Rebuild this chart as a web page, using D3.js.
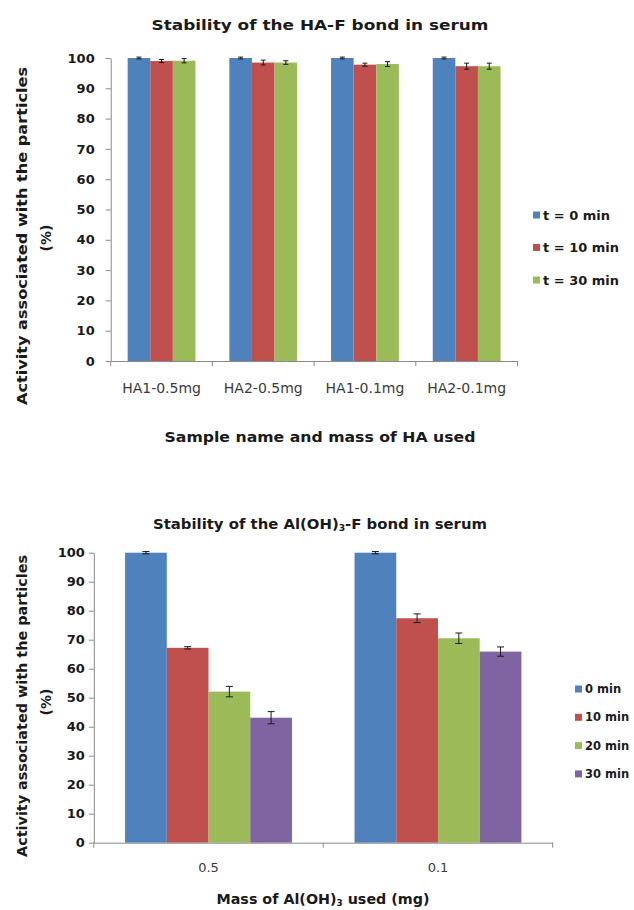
<!DOCTYPE html>
<html>
<head>
<meta charset="utf-8">
<script src="https://cdn.jsdelivr.net/npm/d3@7"></script>
<style>
  body { margin: 0; background: #fff; }
  svg text { font-family: "DejaVu Sans", sans-serif; }
</style>
</head>
<body>
<svg id="chart" width="634" height="910"></svg>
<script>
// top panel: HA-F bond
var haCategories = ['HA1-0.5mg', 'HA2-0.5mg', 'HA1-0.1mg', 'HA2-0.1mg'];
var haSeries = ['t = 0 min', 't = 10 min', 't = 30 min'];
var haT0 = [100, 100, 100, 100];
var haT0Err = [0.3, 0.3, 0.3, 0.3];
var haT10 = [99.0, 98.5, 97.8, 97.3];
var haT10Err = [0.5, 0.8, 0.5, 1.0];
var haT30 = [99.1, 98.5, 98.0, 97.3];
var haT30Err = [0.7, 0.6, 0.8, 1.0];

// bottom panel: Al(OH)3-F bond
var alCategories = ['0.5', '0.1'];
var alSeries = ['0 min', '10 min', '20 min', '30 min'];
var al0 = [100, 100];
var al0Err = [0.4, 0.4];
var al10 = [67.2, 77.4];
var al10Err = [0.4, 1.5];
var al20 = [52.1, 70.5];
var al20Err = [1.8, 1.8];
var al30 = [43.1, 65.9];
var al30Err = [2.1, 1.6];

var yTicks = [0, 10, 20, 30, 40, 50, 60, 70, 80, 90, 100];
var colors = ['#4F81BD', '#C0504D', '#9BBB59', '#8064A2'];

var svg = d3.select('#chart');

function drawPanel(opt) {
	var g = svg.append('g');

	var y = d3.scaleLinear().domain([0, 100]).range([opt.y0, opt.y100]);
	var x0 = d3.scaleBand().domain(opt.categories).range([opt.xLeft, opt.xRight]);
	// Excel style gap width 150%
	var x1 = d3.scaleBand().domain(opt.series).range([0, x0.bandwidth()])
		.paddingInner(0).paddingOuter(0.75);

	var rows = [];
	opt.categories.forEach(function(c, i) {
		opt.series.forEach(function(s, j) {
			rows.push({cat: c, ser: s, j: j, v: opt.values[j][i], e: opt.errors[j][i]});
		});
	});

	g.selectAll('.bar')
		.data(rows)
		.join('rect')
			.attr('class', 'bar')
			.attr('x', function(d) { return x0(d.cat) + x1(d.ser); })
			.attr('width', x1.bandwidth())
			.attr('y', function(d) { return y(d.v); })
			.attr('height', function(d) { return y(0) - y(d.v); })
			.attr('fill', function(d) { return colors[d.j]; });

	// error bars
	var eb = g.selectAll('.err')
		.data(rows)
		.join('g')
			.attr('class', 'err')
			.attr('stroke', '#1a1a1a')
			.attr('stroke-width', 1);
	function cx(d) { return x0(d.cat) + x1(d.ser) + x1.bandwidth() / 2; }
	eb.append('line')
		.attr('x1', cx).attr('x2', cx)
		.attr('y1', function(d) { return y(d.v + d.e); })
		.attr('y2', function(d) { return y(d.v - d.e); });
	eb.append('line')
		.attr('x1', function(d) { return cx(d) - opt.cap; })
		.attr('x2', function(d) { return cx(d) + opt.cap; })
		.attr('y1', function(d) { return y(d.v + d.e); })
		.attr('y2', function(d) { return y(d.v + d.e); });
	eb.append('line')
		.attr('x1', function(d) { return cx(d) - opt.cap; })
		.attr('x2', function(d) { return cx(d) + opt.cap; })
		.attr('y1', function(d) { return y(d.v - d.e); })
		.attr('y2', function(d) { return y(d.v - d.e); });

	// y axis
	var ya = g.append('g')
		.attr('transform', 'translate(' + opt.xLeft + ',0)')
		.call(d3.axisLeft(y).tickValues(yTicks).tickSize(5).tickSizeOuter(0).tickPadding(opt.yPad));
	ya.select('.domain').attr('stroke', '#898989');
	ya.selectAll('.tick line').attr('stroke', '#898989');
	ya.selectAll('.tick text')
		.attr('font-size', 13).attr('font-weight', 'bold').attr('fill', '#1a1a1a');

	// x axis: labels centred, ticks on category boundaries
	var xa = g.append('g')
		.attr('transform', 'translate(0,' + opt.y0 + ')')
		.call(d3.axisBottom(x0).tickSize(0).tickSizeOuter(0).tickPadding(opt.xPad));
	xa.select('.domain').attr('stroke', '#898989');
	xa.selectAll('.tick text')
		.attr('font-size', opt.xFont).attr('fill', '#3a3a3a');
	var bounds = opt.categories.map(function(c) { return x0(c); }).concat([opt.xRight]);
	xa.selectAll('.bound')
		.data(bounds)
		.join('line')
			.attr('class', 'bound')
			.attr('x1', function(d) { return d; }).attr('x2', function(d) { return d; })
			.attr('y1', 0).attr('y2', 5)
			.attr('stroke', '#898989');

	// legend
	var lg = g.selectAll('.leg')
		.data(opt.series)
		.join('g')
			.attr('class', 'leg')
			.attr('transform', function(d, i) { return 'translate(' + opt.legX + ',' + (opt.legY + i * opt.legStep) + ')'; });
	lg.append('rect')
		.attr('x', 0).attr('y', -3.5).attr('width', 7).attr('height', 7)
		.attr('fill', function(d, i) { return colors[i]; });
	lg.append('text')
		.attr('x', opt.legGap).attr('y', 0).attr('dy', '0.35em')
		.attr('font-size', opt.legFont).attr('font-weight', 'bold').attr('fill', '#1a1a1a')
		.text(function(d) { return d; });

	// y title
	var yt = g.append('g')
		.attr('font-size', 14).attr('font-weight', 'bold').attr('fill', '#1a1a1a')
		.attr('text-anchor', 'middle');
	yt.append('text')
		.attr('transform', 'translate(22,' + opt.yTitleY + ') rotate(-90)')
		.attr('dy', '0.35em')
		.attr('textLength', opt.yTitleLen).attr('lengthAdjust', 'spacingAndGlyphs')
		.text('Activity associated  with the particles');
	yt.append('text')
		.attr('transform', 'translate(46,' + opt.yTitleY2 + ') rotate(-90)')
		.attr('dy', '0.35em')
		.text('(%)');
	return g;
}

function addTitle(x, y, len, size, parts) {
	var t = svg.append('text')
		.attr('x', x).attr('y', y).attr('dy', '0.35em')
		.attr('text-anchor', 'middle')
		.attr('font-size', size).attr('font-weight', 'bold').attr('fill', '#1a1a1a')
		.attr('textLength', len).attr('lengthAdjust', 'spacingAndGlyphs');
	parts.forEach(function(p) {
		var ts = t.append('tspan').text(p.t);
		if (p.sub) ts.attr('font-size', size * 0.62).attr('baseline-shift', '-25%');
	});
}

drawPanel({
	categories: haCategories, series: haSeries,
	values: [haT0, haT10, haT30], errors: [haT0Err, haT10Err, haT30Err],
	y0: 361, y100: 58, xLeft: 110.7, xRight: 517.5,
	cap: 2.5, yPad: 11, xPad: 22, xFont: 14,
	legX: 533, legY: 215, legStep: 32.5, legGap: 10, legFont: 13,
	yTitleY: 236, yTitleY2: 238, yTitleLen: 338
});
addTitle(320, 25, 337, 14, [{t: 'Stability of the HA-F bond in serum'}]);
addTitle(320, 437, 311, 14, [{t: 'Sample name and mass of HA used'}]);

drawPanel({
	categories: alCategories, series: alSeries,
	values: [al0, al10, al20, al30], errors: [al0Err, al10Err, al20Err, al30Err],
	y0: 842.7, y100: 552.7, xLeft: 93.8, xRight: 552.7,
	cap: 3.5, yPad: 4, xPad: 20, xFont: 13,
	legX: 575, legY: 689, legStep: 28.3, legGap: 10, legFont: 11.5,
	yTitleY: 706, yTitleY2: 702, yTitleLen: 302
});
addTitle(320, 524, 334, 14, [{t: 'Stability of the Al(OH)'}, {t: '3', sub: true}, {t: '-F bond in serum'}]);
addTitle(323, 899, 213, 14, [{t: 'Mass of Al(OH)'}, {t: '3', sub: true}, {t: ' used (mg)'}]);
</script>
</body>
</html>
